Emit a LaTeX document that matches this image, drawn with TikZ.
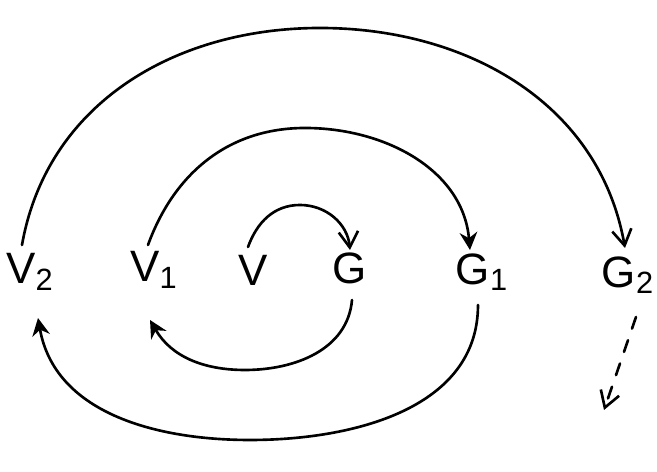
\documentclass[tikz,border=0pt]{standalone}
\usepackage{fontspec}
\setsansfont{Liberation Sans}
\usetikzlibrary{arrows.meta}
\begin{document}
\begin{tikzpicture}[x=0.02cm,y=0.02cm,
  lbl/.style={font=\sffamily\fontsize{25}{30}\selectfont, inner sep=1pt},
  arc/.style={line width=1.5pt, line cap=round},
  openhead/.style={-{Straight Barb[length=9pt,width=11pt,line width=1.5pt]}},
  fillhead/.style={-{Stealth[length=10pt,width=10pt]}}]
\useasboundingbox (0,0) rectangle (657,472);
\node[lbl] (V2) at (30,200) {V\textsubscript{2}};
\node[lbl] (V1) at (154,202) {V\textsubscript{1}};
\node[lbl] (V)  at (253,202) {V};
\node[lbl] (G)  at (350,204) {G};
\node[lbl] (G1) at (482,200) {G\textsubscript{1}};
\node[lbl] (G2) at (628,197) {G\textsubscript{2}};
% connector ends
\coordinate (a1) at (248,225); \coordinate (t1) at (300,267); \coordinate (b1) at (350,222);
\coordinate (a2) at (352,172); \coordinate (t2) at (245,102); \coordinate (b2) at (150,152);
\coordinate (a3) at (148,227); \coordinate (t3) at (305,344); \coordinate (b3) at (470,222);
\coordinate (a4) at (478,167); \coordinate (t4) at (250,32);  \coordinate (b4) at (38,154);
\coordinate (a5) at (22,227);  \coordinate (t5) at (320,444); \coordinate (b5) at (625,224);
\coordinate (a6) at (636,155); \coordinate (b6) at (604,62);
\draw[arc,openhead] (a1) to[out=70,in=180] (t1) to[out=0,in=95] (b1);
\draw[arc,fillhead] (a2) to[out=-95,in=0] (t2) to[out=180,in=-60] (b2);
\draw[arc,fillhead] (a3) to[out=70,in=180] (t3) to[out=0,in=95] (b3);
\draw[arc,fillhead] (a4) to[out=-90,in=0] (t4) to[out=180,in=-80] (b4);
\draw[arc,openhead] (a5) to[out=80,in=180] (t5) to[out=0,in=100] (b5);
\draw[arc,openhead,dash pattern=on 7pt off 7pt] (a6) -- (b6);
\end{tikzpicture}
\end{document}
